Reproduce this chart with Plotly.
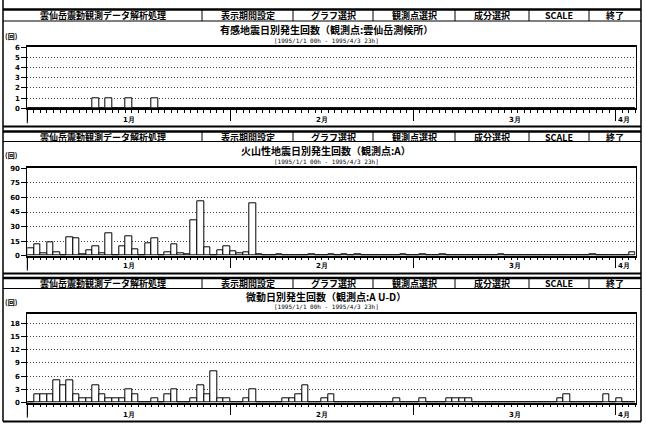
import plotly.graph_objects as go
import pandas as pd

W, H = 646, 427

# ---- data (daily counts, 1995-01-01 .. 1995-04-03) ----
dates = pd.date_range('1995-01-01 12:00', periods=93, freq='D')

felt = [0,0,0,0,0,0,0,0,0,0, 1,0,1,0,0,1,0,0,0,1,
        0,0,0,0,0,0,0,0,0,0, 0,0,0,0,0,0,0,0,0,0,
        0,0,0,0,0,0,0,0,0,0, 0,0,0,0,0,0,0,0,0,0,
        0,0,0,0,0,0,0,0,0,0, 0,0,0,0,0,0,0,0,0,0,
        0,0,0,0,0,0,0,0,0,0, 0,0,0]

volcanic = [8,12,2,14,3,0,19,18,1,6, 10,2,23,0,10,20,7,0,13,18,
            0,3,12,2,1,36,56,9,0,6, 10,5,2,3,54,1,0,0,1,0,
            0,0,0,1,0,0,1,0,1,0, 1,0,0,0,0,0,0,1,0,0,
            1,0,0,1,0,0,0,0,0,0, 0,0,1,0,0,0,0,0,0,0,
            0,0,0,0,0,0,1,0,0,0, 0,0,3]

tremor = [0,2,2,2,5,4,5,2,1,1, 4,2,1,1,1,3,2,0,0,1,
          0,2,3,0,0,1,4,2,7,1, 1,0,0,1,3,0,0,0,0,1,
          1,2,4,0,0,1,2,0,0,0, 0,0,0,0,0,0,1,0,0,0,
          1,0,0,0,1,1,1,1,0,0, 0,0,0,0,0,0,0,0,0,0,
          0,1,2,0,0,0,0,0,2,0, 1,0,0]

series = [felt, volcanic, tremor]
titles = ["有感地震日別発生回数（観測点:雲仙岳測候所）",
          "火山性地震日別発生回数（観測点:A）",
          "微動日別発生回数（観測点:A U-D）"]
subtitle = "[1995/1/1 00h - 1995/4/3 23h]"
unit_label = "(回)"
menu = ["雲仙岳震動観測データ解析処理", "表示期間設定", "グラフ選択",
        "観測点選択", "成分選択", "SCALE", "終了"]
month_ticks = ['1995-01-01', '1995-02-01', '1995-03-01', '1995-04-01']
month_labels = ["1月", "2月", "3月", "4月"]
month_label_pos = ['1995-01-16 12:00', '1995-02-15', '1995-03-16 12:00', '1995-04-02 06:00']
y_ranges = [[0, 6], [0, 90], [0, 20]]
y_dticks = [1, 15, 3]
x_range = ['1995-01-01', '1995-04-04']

# ---- layout geometry (pixels) ----
PX0, PX1 = 27.3, 635.5
FRAME_L, FRAME_R = 3, 641
menu_seps = [202, 293, 373, 455, 529, 589]
panels = [
    dict(top=47.3, bot=108.3, hdr_top=9.5, hdr_bot=21, title_y=29.5, sub_y=40, unit_y=36, box_bot=126.5, mlab=120),
    dict(top=168.3, bot=255.7, hdr_top=131.5, hdr_bot=141.5, title_y=150.8, sub_y=161.2, unit_y=155, box_bot=273.5, mlab=266),
    dict(top=314.3, bot=402.7, hdr_top=278, hdr_bot=288.5, title_y=296.5, sub_y=306.5, unit_y=302, box_bot=421.5, mlab=415),
]

def fx(x):
    return x / W

def fy(y):
    return 1 - y / H

fig = go.Figure()
shapes = []
annotations = []

tick_font = dict(family="DejaVu Sans", size=7, color="black", weight="bold")


def hline(y, x0=FRAME_L, x1=FRAME_R, w=1):
    shapes.append(dict(type="line", xref="paper", yref="paper",
                       x0=fx(x0), x1=fx(x1), y0=fy(y), y1=fy(y),
                       line=dict(color="black", width=w)))


def vline(x, y0, y1, w=1):
    shapes.append(dict(type="line", xref="paper", yref="paper",
                       x0=fx(x), x1=fx(x), y0=fy(y0), y1=fy(y1),
                       line=dict(color="black", width=w)))


for k, p in enumerate(panels):
    n = "" if k == 0 else str(k + 1)
    fig.add_trace(go.Bar(
        x=dates, y=series[k], width=86400000,
        marker=dict(color="white", line=dict(color="black", width=1)),
        xaxis="x" + n, yaxis="y" + n, showlegend=False, hoverinfo="x+y",
    ))
    fig.update_layout(**{
        "xaxis" + n: dict(
            domain=[fx(PX0), fx(PX1)], anchor="y" + n, type="date",
            range=x_range, tickmode="array", tickvals=month_ticks,
            showticklabels=False,
            ticks="outside", ticklen=11, tickwidth=1, tickcolor="black",
            minor=dict(dtick=86400000, tick0="1995-01-01", ticks="outside",
                       ticklen=3, tickcolor="black", tickwidth=1, showgrid=False),
            showline=True, linecolor="black", linewidth=1.5, mirror=True,
            showgrid=False, zeroline=False, fixedrange=True,
        ),
        "yaxis" + n: dict(
            domain=[fy(p["bot"]), fy(p["top"])], anchor="x" + n,
            range=y_ranges[k], dtick=y_dticks[k], tick0=0,
            ticks="outside", ticklen=5, tickcolor="black", tickwidth=1,
            showline=True, linecolor="black", linewidth=1, mirror=True,
            showgrid=True, gridcolor="#444444", griddash="1px,2px", gridwidth=1,
            zeroline=False, tickfont=tick_font, fixedrange=True,
        ),
    })

    # month labels, placed on the panel's own date axis
    for pos, txt in zip(month_label_pos, month_labels):
        annotations.append(dict(
            text=txt, xref="x" + n, yref="paper", x=pos, y=fy(p["mlab"]),
            showarrow=False, xanchor="center", yanchor="middle", borderpad=0,
            font=tick_font,
        ))

    # frame / menu bar
    hline(p["hdr_top"], w=2.5)
    hline(p["hdr_bot"], w=1)
    hline(p["box_bot"], w=2)
    for s in menu_seps:
        vline(s, p["hdr_top"], p["hdr_bot"], 1)
    # left axis line extension below baseline
    vline(PX0, p["bot"], p["bot"] + 15, 1)

    edges = [FRAME_L] + menu_seps + [FRAME_R]
    for i, label in enumerate(menu):
        annotations.append(dict(
            text=label, xref="paper", yref="paper",
            x=fx((edges[i] + edges[i + 1]) / 2), y=fy((p["hdr_top"] + p["hdr_bot"]) / 2 + 0.5),
            showarrow=False, xanchor="center", yanchor="middle", borderpad=0,
            font=dict(family="Noto Sans CJK JP", size=9, color="black", weight="bold"),
        ))
    annotations.append(dict(
        text=titles[k], xref="paper", yref="paper", x=fx(326), y=fy(p["title_y"]),
        showarrow=False, xanchor="center", yanchor="middle", borderpad=0,
        font=dict(family="Noto Sans CJK JP", size=10, color="black", weight="bold"),
    ))
    annotations.append(dict(
        text=subtitle, xref="paper", yref="paper", x=fx(326), y=fy(p["sub_y"]),
        showarrow=False, xanchor="center", yanchor="middle", borderpad=0,
        font=dict(family="DejaVu Sans Mono", size=6, color="black"),
    ))
    annotations.append(dict(
        text=unit_label, xref="paper", yref="paper", x=fx(4), y=fy(p["unit_y"]),
        showarrow=False, xanchor="left", yanchor="middle", borderpad=0,
        font=dict(family="Noto Sans CJK JP", size=7, color="black", weight="bold"),
    ))

# outer frame verticals
vline(FRAME_L, 0, 421.5, 1.5)
vline(FRAME_R, 0, 421.5, 1.5)

fig.update_layout(
    width=W, height=H, margin=dict(l=0, r=0, t=0, b=0, autoexpand=False),
    paper_bgcolor="white", plot_bgcolor="white",
    bargap=0, shapes=shapes, annotations=annotations, showlegend=False,
)

fig.write_html("out.html", config={"displayModeBar": False},
               post_script="document.body.style.margin='0';document.body.style.overflow='hidden';")
